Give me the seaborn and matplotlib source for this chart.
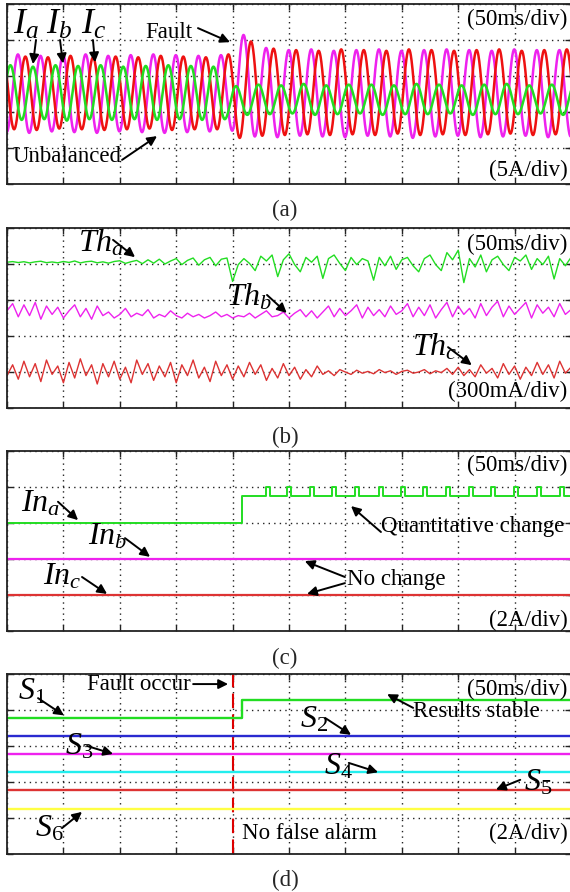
import numpy as np
import pandas as pd
import matplotlib
matplotlib.use("Agg")
import matplotlib.pyplot as plt
import seaborn as sns

# ---------------- data ----------------
ms_per_div = 50
n_div_x = 10
n_div_y = 5
fault_ms = 200
mains_period_ms = 20

# (a) phase currents, A (5 A/div): successive peak / trough of each cycle
ia_first_peak_ms = -17.0
ib_first_peak_ms = -10.3
ic_first_peak_ms = -3.7
ia_peaks = [3.8, 3.9, 3.7, 3.9, 3.8, 3.9, 3.7, 3.8, 3.9, 3.8, 3.7, 1.0, 1.2, 1.1, 1.3, 1.1,
            1.2, 1.2, 1.1, 1.3, 1.2, 1.1, 1.2, 1.3, 1.1, 1.2, 1.2]
ia_troughs = [-3.6, -3.7, -3.6, -3.8, -3.6, -3.7, -3.6, -3.7, -3.6, -3.7, -3.6, -3.0, -2.9,
              -2.8, -3.0, -2.9, -2.8, -3.0, -2.9, -2.9, -2.8, -3.0, -2.9, -2.9, -2.8, -3.0, -2.9]
ib_peaks = [5.3, 5.4, 5.2, 5.3, 5.4, 5.2, 5.3, 5.4, 5.3, 5.2, 5.3, 8.1, 6.3, 6.0, 6.1, 5.9,
            6.0, 6.1, 5.9, 6.0, 6.1, 6.0, 5.9, 6.1, 6.0, 6.0, 5.9]
ib_troughs = [-5.4, -5.5, -5.3, -5.4, -5.5, -5.3, -5.4, -5.5, -5.4, -5.3, -5.2, -6.0, -6.1,
              -5.9, -6.0, -6.1, -5.9, -6.0, -6.2, -6.0, -5.9, -6.1, -6.0, -5.9, -6.1, -6.0, -6.0]
ic_peaks = [5.0, 5.1, 5.0, 5.2, 5.0, 5.1, 5.0, 5.2, 5.1, 5.0, 5.4, 7.2, 6.2, 6.0, 5.9, 6.1,
            6.0, 5.9, 6.1, 6.0, 5.9, 6.0, 6.1, 5.9, 6.0, 6.1, 6.0]
ic_troughs = [-5.0, -5.1, -4.9, -5.0, -5.1, -5.0, -4.9, -5.1, -5.0, -5.0, -6.2, -5.9, -5.8,
              -5.7, -5.8, -5.7, -5.8, -5.6, -5.8, -5.7, -5.8, -5.7, -5.6, -5.8, -5.7, -5.8, -5.7]

# (b) thresholds, mA (300 mA/div), sampled every 5 ms
th_step_ms = 5
th_a = [0, 5, -3, 4, -6, 3, 8, -4, 2, -5, 6, -2, 10, -6, 4, 8, -5, 3, -8, 6,
        12, -10, 4, 15, -12, 20, -8, 25, -15, 10, 30, -20, 15, 35, -25, 20, 40, -30, 25, 35,
        -160, -20, 30, -10, -70, 50, 10, 60, -120, 20, 70, -20, -80, 40, 0, 50, -135, 30, 60, -10,
        -70, 40, -20, 30, 10, -150, 40, -30, 50, -60, 20, 40, -30, -80, 30, 60, -20, -70, 80, 20,
        100, -170, 30, -40, 60, -80, 20, 50, -20, -70, 40, 10, 60, -60, 30, -20, 50, -140, 30, -30, 40]
th_b = [60, 120, 10, 110, 20, 130, -10, 100, 30, 90, 0, 60, 110, 10, 80, -10, 100, 20, 50, 0,
        30, 80, 10, 40, 20, 70, 0, 30, 10, 60, 20, 0, 40, 10, 30, 0, 20, 50, 10, 30,
        0, 20, 10, 40, 0, 30, 60, 10, 20, 50, 0, 40, 70, 10, 60, 0, 50, 100, 10, 80,
        20, 60, 110, 0, 90, 20, 70, 10, 100, 30, 60, 120, 10, 90, 20, 110, 0, 70, 130, 10,
        100, 30, 80, 0, 120, 20, 90, 140, 10, 100, 30, 80, 130, 0, 110, 40, 90, 10, 120, 30, 70]
th_c = [-30, 60, -60, 90, -40, 70, -80, 100, -20, 50, -90, 80, -50, 110, -30, 60, -100, 70, -40, 90,
        -60, 40, -90, 100, -20, 70, -70, 50, -40, 80, -90, 60, -30, 100, -50, 40, -80, 90, -30, 60,
        -60, 50, -40, 80, -20, 60, -70, 30, -50, 70, -30, 40, -60, 20, -40, 50, -20, 10, -30, 20,
        0, -20, 15, -10, 5, -15, 20, -5, 10, -20, 5, 15, -10, 0, 20, -15, 10, -5, 30, -20,
        40, -30, 20, -40, 60, -10, 30, -50, 70, -20, 50, -60, 40, -30, 80, -20, 60, -50, 90, -10, 40]

# (c) indicators, A (2 A/div)
in_a_step_ms = 208.5
in_a_levels = [0.0, 1.5, 2.0]          # before fault, after fault, pulse
in_a_pulse_ms = [229.5, 248.5, 268.5, 288.5, 308.5, 329.5, 349, 369, 389, 409.5,
                 429.5, 449.5, 470, 490]
in_a_pulse_width_ms = 3.5
in_b_level = 0.0
in_c_level = 0.0

# (d) outputs, A (2 A/div)
s1_step_ms = 208.5
s1_levels = [0.0, 1.0]
s_other_levels = [0.0, 0.0, 0.0, 0.0, 0.0]   # S2..S6

# ---------------- display settings ----------------
off_a = 2.52
off_th = [4.05, 2.5, 1.0]
off_in = [3.0, 2.0, 1.0]
off_s = [3.77, 3.29, 2.77, 2.27, 1.77, 1.26]
GREEN, MAGENTA, RED = "#22dd22", "#ee22ee", "#ee1111"
RED2, BLUE, CYAN, YELLOW = "#dd3333", "#2a2ad0", "#22eeee", "#ffff44"
FS = 16.5

sns.set_theme(style="white")
plt.rcParams["font.family"] = ["Liberation Serif", "DejaVu Serif"]
plt.rcParams["mathtext.fontset"] = "custom"
plt.rcParams["mathtext.it"] = "Liberation Serif:italic"
plt.rcParams["mathtext.rm"] = "Liberation Serif"

W, H = 570, 892
fig = plt.figure(figsize=(W / 100, H / 100), dpi=100)
tops = [4, 228, 451, 674]
axes = []
for t in tops:
    ax = fig.add_axes([7 / W, (H - t - 180) / H, 564 / W, 180 / H])
    axes.append(ax)

t_end = ms_per_div * n_div_x


def style(ax):
    ax.set_xlim(0, t_end)
    ax.set_ylim(0, n_div_y)
    ax.set_xticks(np.arange(0, t_end + 1, ms_per_div))
    ax.set_yticks(np.arange(0, n_div_y + 1))
    ax.set_xticklabels([])
    ax.set_yticklabels([])
    ax.set_xlabel("")
    ax.set_ylabel("")
    ax.grid(True, linestyle=(0, (1, 3)), color="#222222", lw=1.0)
    ax.tick_params(direction="in", length=4, width=1, top=True, right=True,
                   bottom=True, left=True, color="#222222")
    for s in ax.spines.values():
        s.set_color("#222222")
        s.set_linewidth(1.3)
    ax.set_axisbelow(True)


def wave(first_peak, peaks, troughs, t):
    et, ev = [first_peak - mains_period_ms / 2], [troughs[0]]
    for k, (p, q) in enumerate(zip(peaks, troughs)):
        et += [first_peak + k * mains_period_ms, first_peak + k * mains_period_ms + mains_period_ms / 2]
        ev += [p, q]
    et, ev = np.array(et), np.array(ev)
    idx = np.clip(np.searchsorted(et, t) - 1, 0, len(et) - 2)
    t0, t1 = et[idx], et[idx + 1]
    v0, v1 = ev[idx], ev[idx + 1]
    ph = (t - t0) / (t1 - t0)
    return (v0 + v1) / 2 + (v0 - v1) / 2 * np.cos(np.pi * ph)


def text(ax, x, y, s, size=FS, ha="left"):
    ax.text(x, y, s, fontsize=size, ha=ha, va="center", color="black", zorder=10)


def arrow(ax, x0, y0, x1, y1):
    ax.annotate("", xy=(x1, y1), xytext=(x0, y0),
                arrowprops=dict(arrowstyle="-|>", color="black", lw=1.4,
                                mutation_scale=14, shrinkA=0, shrinkB=0), zorder=11)


# ---- (a)
ax = axes[0]
t = np.linspace(0, t_end, 3001)
df_a = pd.DataFrame({"t": t,
                     "Ib": off_a + wave(ib_first_peak_ms, ib_peaks, ib_troughs, t) / 5,
                     "Ic": off_a + wave(ic_first_peak_ms, ic_peaks, ic_troughs, t) / 5,
                     "Ia": off_a + wave(ia_first_peak_ms, ia_peaks, ia_troughs, t) / 5})
for col, c in [("Ib", MAGENTA), ("Ic", RED), ("Ia", GREEN)]:
    sns.lineplot(data=df_a, x="t", y=col, ax=ax, color=c, lw=1.8, estimator=None, sort=False)
style(ax)
text(ax, 497, 4.56, "(50ms/div)", ha="right")
text(ax, 497, 0.39, "(5A/div)", ha="right")
text(ax, 5.0, 4.4, r"$I_a$", size=26)
text(ax, 35.0, 4.4, r"$I_b$", size=26)
text(ax, 66.0, 4.4, r"$I_c$", size=26)
arrow(ax, 25.7, 4.0, 23.0, 3.33)
arrow(ax, 47.0, 4.0, 49.6, 3.35)
arrow(ax, 76.2, 4.0, 78.0, 3.38)
text(ax, 164, 4.22, "Fault", ha="right")
arrow(ax, 169.3, 4.33, 197.7, 3.94)
text(ax, 5.3, 0.75, "Unbalanced")
arrow(ax, 102, 0.67, 133, 1.33)

# ---- (b)
ax = axes[1]
tb = np.arange(len(th_a)) * th_step_ms
df_b = pd.DataFrame({"t": tb,
                     "a": off_th[0] + np.array(th_a) / 300,
                     "b": off_th[1] + np.array(th_b) / 300,
                     "c": off_th[2] + np.array(th_c) / 300})
for col, c in [("a", GREEN), ("b", MAGENTA), ("c", RED2)]:
    sns.lineplot(data=df_b, x="t", y=col, ax=ax, color=c, lw=1.0, estimator=None, sort=False)
style(ax)
text(ax, 497, 4.53, "(50ms/div)", ha="right")
text(ax, 497, 0.47, "(300mA/div)", ha="right")
text(ax, 63, 4.58, r"$Th_a$", size=23)
arrow(ax, 94, 4.67, 113.5, 4.19)
text(ax, 194, 3.08, r"$Th_b$", size=23)
arrow(ax, 230.5, 3.14, 248, 2.64)
text(ax, 359, 1.69, r"$Th_c$", size=23)
arrow(ax, 391, 1.69, 412, 1.19)

# ---- (c)
ax = axes[2]
tc = [0.0, in_a_step_ms]
vc = [in_a_levels[0], in_a_levels[1]]
for p in in_a_pulse_ms:
    tc += [p, p + in_a_pulse_width_ms]
    vc += [in_a_levels[2], in_a_levels[1]]
tc.append(t_end)
vc.append(in_a_levels[1])
df_c = pd.DataFrame({"t": tc, "v": off_in[0] + np.array(vc) / 2})
sns.lineplot(data=df_c, x="t", y="v", ax=ax, color=GREEN, lw=1.4, estimator=None,
             sort=False, drawstyle="steps-post")
df_c2 = pd.DataFrame({"t": [0, t_end],
                      "b": [off_in[1] + in_b_level / 2] * 2,
                      "c": [off_in[2] + in_c_level / 2] * 2})
sns.lineplot(data=df_c2, x="t", y="b", ax=ax, color=MAGENTA, lw=1.6, estimator=None, sort=False)
sns.lineplot(data=df_c2, x="t", y="c", ax=ax, color=RED2, lw=1.6, estimator=None, sort=False)
style(ax)
text(ax, 497, 4.61, "(50ms/div)", ha="right")
text(ax, 497, 0.28, "(2A/div)", ha="right")
text(ax, 12, 3.53, r"$In_a$", size=23)
arrow(ax, 45.2, 3.59, 63, 3.08)
text(ax, 72, 2.61, r"$In_b$", size=23)
arrow(ax, 104.6, 2.58, 126.8, 2.06)
text(ax, 32, 1.5, r"$In_c$", size=23)
arrow(ax, 66.5, 1.5, 88.7, 1.03)
text(ax, 331.5, 2.89, "Quantitative change")
arrow(ax, 331.5, 2.75, 305, 3.47)
text(ax, 301.4, 1.42, "No change")
arrow(ax, 299.6, 1.5, 264, 1.94)
arrow(ax, 299.6, 1.33, 266, 1.03)

# ---- (d)
ax = axes[3]
df_d = pd.DataFrame({"t": [0.0, s1_step_ms, t_end],
                     "v": [off_s[0] + s1_levels[0] / 2, off_s[0] + s1_levels[1] / 2,
                           off_s[0] + s1_levels[1] / 2]})
ax.axvline(fault_ms, color="#dd0000", lw=1.5, ls=(0, (7, 3)), zorder=1.5)
sns.lineplot(data=df_d, x="t", y="v", ax=ax, color=GREEN, lw=1.7, estimator=None,
             sort=False, drawstyle="steps-post")
for lvl, off, c in zip(s_other_levels, off_s[1:], [BLUE, MAGENTA, CYAN, RED2, YELLOW]):
    d = pd.DataFrame({"t": [0, t_end], "v": [off + lvl / 2] * 2})
    sns.lineplot(data=d, x="t", y="v", ax=ax, color=c, lw=1.7, estimator=None, sort=False)
style(ax)
text(ax, 497, 4.58, "(50ms/div)", ha="right")
text(ax, 497, 0.56, "(2A/div)", ha="right")
text(ax, 163, 4.72, "Fault occur", ha="right")
arrow(ax, 165, 4.72, 196, 4.72)
text(ax, 9.5, 4.5, r"$S_{\mathrm{1}}$", size=23)
arrow(ax, 27.5, 4.33, 50.5, 3.85)
text(ax, 259.5, 3.72, r"$S_{\mathrm{2}}$", size=23)
arrow(ax, 282, 3.78, 305, 3.31)
text(ax, 51, 2.97, r"$S_{\mathrm{3}}$", size=23)
arrow(ax, 71, 3.0, 94, 2.78)
text(ax, 281, 2.42, r"$S_{\mathrm{4}}$", size=23)
arrow(ax, 303, 2.53, 329, 2.27)
text(ax, 458, 1.97, r"$S_{\mathrm{5}}$", size=23)
arrow(ax, 455, 2.06, 433.5, 1.79)
text(ax, 24.5, 0.69, r"$S_{\mathrm{6}}$", size=23)
arrow(ax, 48.8, 0.72, 66.5, 1.17)
text(ax, 360, 3.97, "Results stable")
arrow(ax, 360, 4.06, 337, 4.44)
text(ax, 208, 0.56, "No false alarm")

for lab, y in zip(["(a)", "(b)", "(c)", "(d)"], [210, 437, 658, 880]):
    fig.text(285 / W, 1 - y / H, lab, fontsize=FS, ha="center", va="center")

fig.savefig("out.png", dpi=100)
